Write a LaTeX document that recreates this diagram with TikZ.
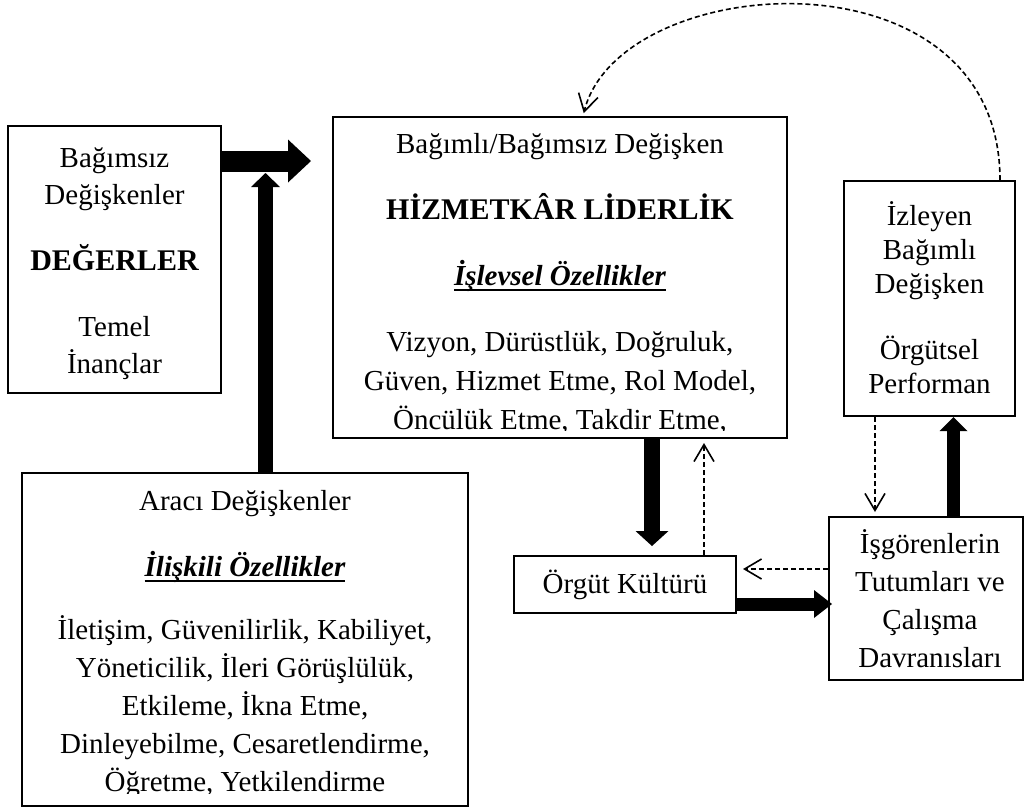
\documentclass[tikz,border=0pt]{standalone}
\usepackage{fontspec}
\setmainfont{Liberation Serif}
\usetikzlibrary{arrows.meta}
\newcommand\myul[1]{\setbox0\hbox{#1}\rlap{\rule[-2.8pt]{\wd0}{0.9pt}}\box0}
\begin{document}
\begin{tikzpicture}[x=0.5pt,y=-0.5pt,
  box/.style={draw, line width=1pt, inner sep=0pt},
  txt/.style={inner sep=0pt, align=center, anchor=north, font=\fontsize{14.5pt}{19pt}\selectfont},
  blk/.style n args={3}{draw, line width=#1, -{Triangle[length=#2 0 0,width=#3 0 0,line width=0pt 0 0]}},
  dsh/.style={draw, line width=0.8pt, dash pattern=on 2.5pt off 1.5pt, -{Straight Barb[length=8.5pt 0 0,width=10pt 0 0,line width=0.8pt 0 0]}}
]
\useasboundingbox (0,0) rectangle (1024,811);

% boxes
\node[box, minimum width=106.5pt, minimum height=133.5pt] (A) at (114.5,259.5) {};
\node[box, minimum width=227pt, minimum height=160.5pt] (B) at (560,277.5) {};
\node[box, minimum width=85.5pt, minimum height=117.5pt] (C) at (929.5,298.5) {};
\node[box, minimum width=223pt, minimum height=166.5pt] (D) at (245,639.5) {};
\node[box, minimum width=111pt, minimum height=28.5pt] (E) at (625,584.5) {};
\node[box, minimum width=97pt, minimum height=81.5pt] (F) at (926,598.5) {};

% texts
\node[txt, font=\fontsize{14.5pt}{18.5pt}\selectfont] (At) at (114.5,141) {\rule{0pt}{13pt}Bağımsız\\Değişkenler\\[14.5pt]{\fontsize{15pt}{18.5pt}\selectfont\bfseries DEĞERLER}\\[14.5pt]Temel\\İnançlar};
\begin{scope}
\clip (B.north west) rectangle (B.east |- 0,430.5);
\node[txt, font=\fontsize{14.5pt}{19.5pt}\selectfont] (Bt) at (560,127) {\rule{0pt}{13pt}Bağımlı/Bağımsız Değişken\\[13.5pt]{\fontsize{15pt}{19.5pt}\selectfont\bfseries HİZMETKÂR LİDERLİK}\\[13.5pt]\myul{\bfseries\itshape İşlevsel Özellikler}\\[13.5pt]Vizyon, Dürüstlük, Doğruluk,\\Güven, Hizmet Etme, Rol Model,\\Öncülük Etme, Takdir Etme,};
\end{scope}
\node[txt, font=\fontsize{14.5pt}{17pt}\selectfont] (Ct) at (929.5,199) {\rule{0pt}{13pt}İzleyen\\Bağımlı\\Değişken\\[16pt]Örgütsel\\Performan};
\begin{scope}
\clip (D.north west) rectangle (D.east |- 0,793);
\node[txt] (Dt) at (245,484) {\rule{0pt}{13pt}Aracı Değişkenler\\[14pt]\myul{\bfseries\itshape İlişkili Özellikler}\\[12.5pt]İletişim, Güvenilirlik, Kabiliyet,\\Yöneticilik, İleri Görüşlülük,\\Etkileme, İkna Etme,\\Dinleyebilme, Cesaretlendirme,\\Öğretme, Yetkilendirme};
\end{scope}
\node[inner sep=0pt, anchor=base, font=\fontsize{14.5pt}{19pt}\selectfont] (Et) at (625,593) {Örgüt Kültürü};
\node[txt] (Ft) at (930,527) {\rule{0pt}{13pt}İşgörenlerin\\Tutumları ve\\Çalışma\\Davranısları};

% thick arrows
\coordinate (J) at (265.5,173);
\draw[blk={10.5pt}{11.5pt}{21.5pt}, shorten >=10.5pt] (A.east |- 0,161) -- (B.west |- 0,161);
\draw[blk={7.5pt}{7pt}{14.5pt}] (D.north -| J) -- (J);
\draw[blk={8pt}{7.5pt}{16.5pt}, shorten >=4.5pt] (B.south -| 652,0) -- (E.north -| 652,0);
\draw[blk={6.5pt}{9pt}{14pt}, shorten >=-2pt] (E.east |- 0,604) -- (F.west |- 0,604);
\draw[blk={6.5pt}{7pt}{14pt}] (F.north -| 953.5,0) -- (C.south -| 953.5,0);

% dashed arrows
\draw[dsh, shorten >=2pt] (C.south -| 875,0) -- (F.north -| 875,0);
\draw[dsh, shorten >=2pt] (E.north -| 704,0) -- (B.south -| 704,0);
\draw[dsh, shorten >=3pt] (F.west |- 0,569) -- (E.east |- 0,569);
\draw[dsh, shorten >=1.5pt] (C.north -| 1000,0) .. controls (1000,-56) and (620,-30) .. (B.north -| 583,0);
\end{tikzpicture}
\end{document}
